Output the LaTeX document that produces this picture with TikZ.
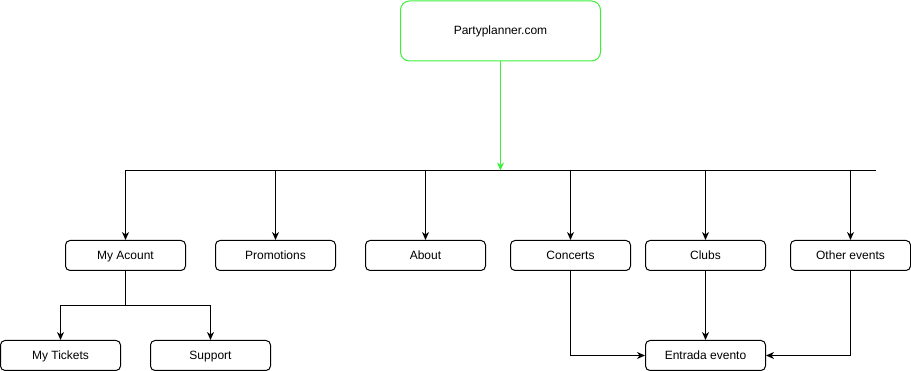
\documentclass[tikz,border=0pt]{standalone}
\usepackage{fontspec}
\setmainfont{Liberation Sans}
\usetikzlibrary{arrows.meta}
\definecolor{webgreen}{RGB}{60,240,60}
\begin{document}
\begin{tikzpicture}[x=1pt,y=-1pt,
  font=\fontsize{12}{14}\selectfont,
  box/.style={draw=black,line width=1pt,rounded corners=4.5pt,
    minimum width=120pt,minimum height=30pt,inner sep=0pt,fill=white,
    text height=9.8pt,text depth=2pt},
  rootbox/.style={draw=webgreen,line width=1pt,rounded corners=9pt,
    minimum width=200pt,minimum height=60pt,inner sep=0pt,fill=white,
    text height=9.8pt,text depth=2pt},
  wire/.style={line width=1pt,draw=black},
  arr/.style={wire,-{Stealth[length=8pt,width=7pt,inset=2.5pt]}},
  garr/.style={line width=1pt,draw=webgreen,-{Stealth[length=8pt,width=7pt,inset=2.5pt]}}]
\useasboundingbox (0,0) rectangle (911,371);

% root
\node[rootbox] (root) at (500.5,31) {Partyplanner.com};

% bus line
\coordinate (busL) at (125.5,170.5);
\coordinate (busR) at (875.5,170.5);
\coordinate (busM) at (root.south |- busL);
\draw[wire] (busL) -- (busR);
\draw[garr] (root.south) -- (busM);

% second level
\node[box] (acc)   at (125.5,255.5) {My Acount};
\node[box] (promo) at (275.5,255.5) {Promotions};
\node[box] (about) at (425.5,255.5) {About};
\node[box] (conc)  at (570.5,255.5) {Concerts};
\node[box] (clubs) at (705.5,255.5) {Clubs};
\node[box] (other) at (850.5,255.5) {Other events};

\foreach \n in {acc,promo,about,conc,clubs,other}
  \draw[arr] (\n.north |- busL) -- (\n.north);

% third level
\node[box] (tick) at (60.5,355.5)  {My Tickets};
\node[box] (supp) at (210.5,355.5) {Support};
\node[box] (ent)  at (705.5,355.5) {Entrada evento};

\coordinate (accJ) at (125.5,305.5);
\draw[wire] (acc.south) -- (accJ);
\draw[arr] (accJ) -| (tick.north);
\draw[arr] (accJ) -| (supp.north);

\draw[arr] (conc.south) |- (ent.west);
\draw[arr] (clubs.south) -- (ent.north);
\draw[arr] (other.south) |- (ent.east);
\end{tikzpicture}
\end{document}
